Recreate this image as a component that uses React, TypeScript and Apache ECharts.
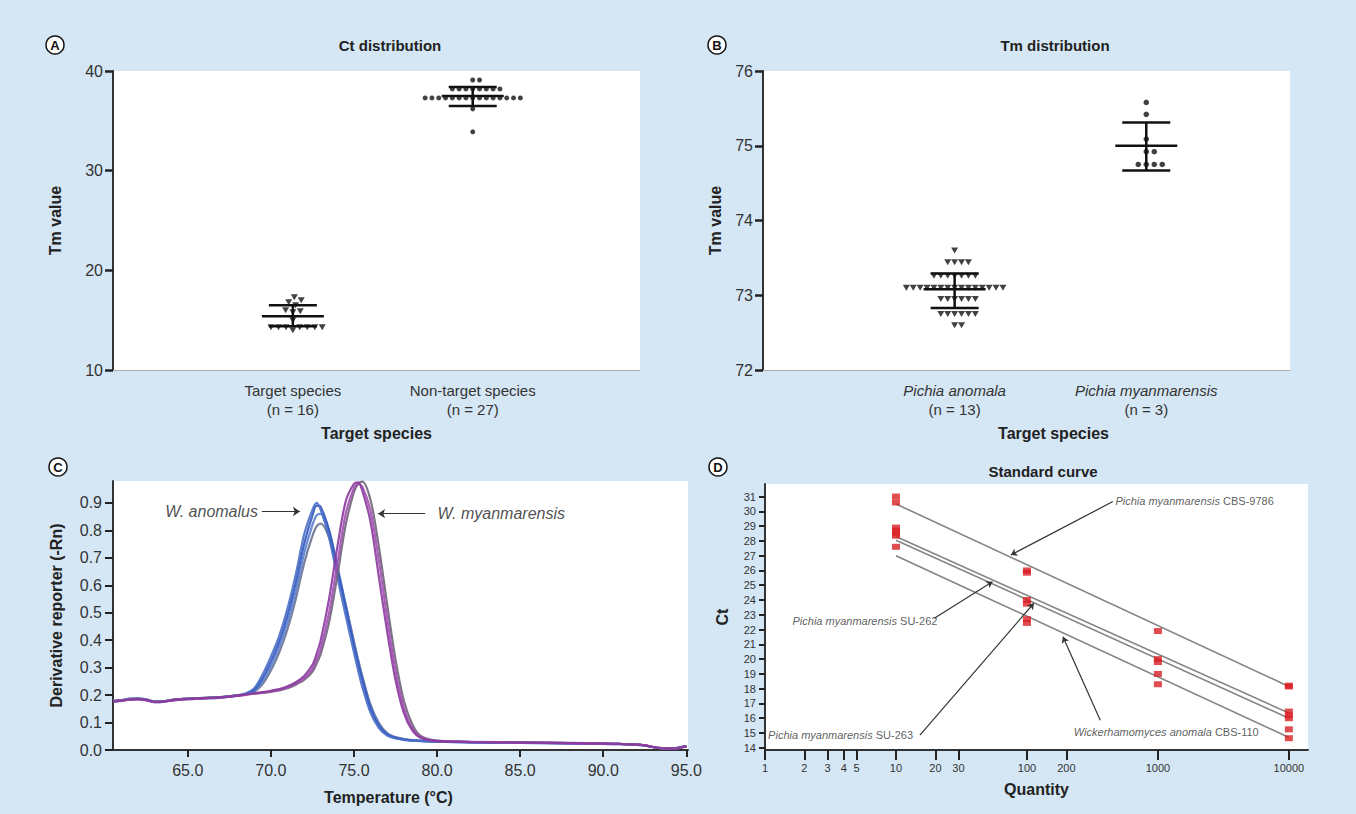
import React, { useEffect, useRef } from "react";
import * as echarts from "echarts";

const FONT = "'Liberation Sans', Arial, Helvetica, sans-serif";

// ---------- Panel A : Ct distribution ----------
const ctCategories = ["Target species", "Non-target species"];
const ctCounts = ["(n = 16)", "(n = 27)"];
const ctTarget = [17.3, 17.0, 16.8, 16.5, 16.0, 15.9, 15.8, 15.0, 14.3, 14.3, 14.3, 14.3, 14.3, 14.3, 14.3, 14.0];
const ctNonTarget = [
  39.1, 39.1,
  38.2, 38.2, 38.2, 38.2, 38.2, 38.2, 38.2, 38.2,
  37.3, 37.3, 37.3, 37.3, 37.3, 37.3, 37.3, 37.3, 37.3, 37.3, 37.3, 37.3, 37.3, 37.3, 37.3,
  36.2, 33.9,
];
const ctMean = [15.4, 37.5];
const ctSdLow = [14.4, 36.5];
const ctSdHigh = [16.5, 38.4];

// ---------- Panel B : Tm distribution ----------
const tmCategories = ["Pichia anomala", "Pichia myanmarensis"];
const tmCounts = ["(n = 13)", "(n = 3)"];
const tmAnomala = [
  73.6,
  73.44, 73.44, 73.44, 73.44,
  73.26, 73.26, 73.26, 73.26, 73.26, 73.26, 73.26,
  73.1, 73.1, 73.1, 73.1, 73.1, 73.1, 73.1, 73.1, 73.1, 73.1, 73.1, 73.1, 73.1, 73.1, 73.1,
  72.95, 72.95, 72.95, 72.95, 72.95, 72.95,
  72.75, 72.75, 72.75, 72.75, 72.75, 72.75,
  72.6, 72.6,
];
const tmMyanmarensis = [75.58, 75.42, 75.09, 74.92, 74.92, 74.75, 74.75, 74.75, 74.75];
const tmMean = [73.08, 75.0];
const tmSdLow = [72.83, 74.67];
const tmSdHigh = [73.29, 75.31];

// ---------- Panel C : melt curves ----------
const temps = [60.5, 61, 61.5, 62, 62.5, 63, 63.5, 64, 65, 66, 67, 68, 68.5, 69, 69.5, 70, 70.5, 71, 71.5, 72, 72.5, 72.75, 73, 73.5, 74, 74.5, 75, 75.25, 75.5, 76, 76.5, 77, 77.5, 78, 78.5, 79, 80, 82, 85, 88, 90, 91, 92, 92.5, 93, 93.5, 94, 94.5, 95];
const anomalus1 = [0.178, 0.18, 0.185, 0.186, 0.183, 0.175, 0.176, 0.181, 0.186, 0.189, 0.192, 0.2, 0.207, 0.225, 0.275, 0.34, 0.415, 0.515, 0.64, 0.785, 0.875, 0.9, 0.875, 0.775, 0.63, 0.49, 0.355, 0.29, 0.23, 0.135, 0.08, 0.053, 0.042, 0.037, 0.034, 0.032, 0.03, 0.028, 0.026, 0.024, 0.022, 0.021, 0.019, 0.016, 0.01, 0.006, 0.005, 0.007, 0.013];
const anomalus2 = [0.176, 0.179, 0.184, 0.185, 0.182, 0.174, 0.175, 0.18, 0.185, 0.188, 0.191, 0.199, 0.205, 0.22, 0.262, 0.322, 0.395, 0.49, 0.61, 0.75, 0.855, 0.89, 0.885, 0.8, 0.66, 0.52, 0.38, 0.315, 0.255, 0.15, 0.088, 0.057, 0.044, 0.038, 0.035, 0.033, 0.031, 0.029, 0.027, 0.025, 0.023, 0.022, 0.02, 0.017, 0.011, 0.007, 0.006, 0.008, 0.014];
const anomalus3 = [0.18, 0.182, 0.187, 0.188, 0.185, 0.177, 0.178, 0.183, 0.187, 0.19, 0.193, 0.198, 0.204, 0.215, 0.25, 0.305, 0.375, 0.465, 0.58, 0.715, 0.82, 0.855, 0.86, 0.8, 0.67, 0.53, 0.39, 0.325, 0.265, 0.16, 0.094, 0.06, 0.046, 0.039, 0.035, 0.033, 0.03, 0.028, 0.026, 0.024, 0.022, 0.021, 0.019, 0.016, 0.01, 0.006, 0.005, 0.007, 0.013];
const anomalus4 = [0.177, 0.181, 0.186, 0.187, 0.184, 0.176, 0.177, 0.182, 0.187, 0.19, 0.193, 0.199, 0.203, 0.212, 0.24, 0.29, 0.355, 0.44, 0.55, 0.68, 0.78, 0.815, 0.825, 0.775, 0.66, 0.53, 0.395, 0.33, 0.27, 0.165, 0.098, 0.062, 0.047, 0.04, 0.036, 0.034, 0.031, 0.029, 0.027, 0.025, 0.023, 0.022, 0.02, 0.017, 0.011, 0.007, 0.006, 0.008, 0.014];
const myanmarensis1 = [0.177, 0.18, 0.184, 0.185, 0.182, 0.175, 0.176, 0.181, 0.186, 0.189, 0.192, 0.198, 0.203, 0.207, 0.211, 0.216, 0.222, 0.232, 0.247, 0.27, 0.31, 0.35, 0.4, 0.55, 0.74, 0.905, 0.97, 0.975, 0.945, 0.83, 0.63, 0.43, 0.255, 0.135, 0.072, 0.045, 0.032, 0.029, 0.027, 0.025, 0.023, 0.022, 0.02, 0.017, 0.011, 0.006, 0.005, 0.007, 0.014];
const myanmarensis2 = [0.176, 0.179, 0.183, 0.184, 0.181, 0.174, 0.175, 0.18, 0.185, 0.188, 0.191, 0.197, 0.201, 0.205, 0.209, 0.213, 0.219, 0.228, 0.242, 0.262, 0.295, 0.33, 0.37, 0.5, 0.68, 0.86, 0.955, 0.97, 0.96, 0.87, 0.69, 0.48, 0.29, 0.155, 0.08, 0.048, 0.033, 0.03, 0.027, 0.025, 0.023, 0.022, 0.02, 0.017, 0.011, 0.007, 0.006, 0.008, 0.013];
const myanmarensis3 = [0.178, 0.181, 0.185, 0.186, 0.183, 0.176, 0.177, 0.182, 0.187, 0.19, 0.193, 0.198, 0.202, 0.205, 0.208, 0.212, 0.217, 0.225, 0.238, 0.255, 0.285, 0.315, 0.35, 0.465, 0.635, 0.82, 0.94, 0.97, 0.978, 0.91, 0.74, 0.53, 0.33, 0.18, 0.095, 0.052, 0.034, 0.03, 0.028, 0.026, 0.024, 0.022, 0.02, 0.017, 0.011, 0.007, 0.006, 0.008, 0.014];
const tempTicks = [65, 70, 75, 80, 85, 90, 95];
const rnTicks = [0, 0.1, 0.2, 0.3, 0.4, 0.5, 0.6, 0.7, 0.8, 0.9];

// ---------- Panel D : standard curve ----------
const stdQty = [10, 10, 10, 10, 10, 10, 10, 100, 100, 100, 100, 100, 100, 1000, 1000, 1000, 1000, 1000, 10000, 10000, 10000, 10000, 10000, 10000, 10000];
const stdCt = [31.0, 30.6, 28.9, 28.7, 28.5, 28.35, 27.6, 26.0, 25.85, 24.0, 23.75, 22.7, 22.45, 21.9, 20.0, 19.8, 19.0, 18.3, 18.2, 18.15, 16.45, 16.2, 16.0, 15.25, 14.65];
const fitNames = ["Pichia myanmarensis CBS-9786", "Pichia myanmarensis SU-262", "Wickerhamomyces anomala CBS-110", "Pichia myanmarensis SU-263"];
const fitQty = [10, 10000];
const fitCtStart = [30.5, 28.3, 28.05, 27.0];
const fitCtEnd = [18.15, 16.35, 16.0, 14.7];
const qtyTicks = [1, 2, 3, 4, 5, 10, 20, 30, 100, 200, 1000, 10000];
const stdCtTicks = [14, 15, 16, 17, 18, 19, 20, 21, 22, 23, 24, 25, 26, 27, 28, 29, 30, 31];

// ---------- layout ----------
const GA = { left: 113, top: 71, width: 527, height: 299 };
const GB = { left: 763, top: 71, width: 527, height: 299 };
const GC = { left: 113, top: 481, width: 575, height: 269 };
const GD = { left: 765, top: 484, width: 543, height: 266 };
const XA = [0, 2.93];
const XB = [0, 2.75];
const YA = [10, 40];
const YB = [72, 76];

// beeswarm offsets computed from values (collision avoidance in pixel space)
function swarm(values: number[], pxX: number, pxY: number, d: number): number[] {
  const order = values.map((_, i) => i).sort((a, b) => values[a] - values[b]);
  const placed: { x: number; y: number }[] = [];
  const out = new Array(values.length).fill(0);
  for (const i of order) {
    const y = values[i] * pxY;
    const near = placed.filter((p) => Math.abs(p.y - y) < d);
    const cands = [0];
    near.forEach((p) => {
      const dx = Math.sqrt(d * d - (p.y - y) * (p.y - y));
      cands.push(p.x + dx, p.x - dx);
    });
    cands.sort((a, b) => Math.abs(a) - Math.abs(b) || b - a);
    let x = 0;
    for (const c of cands) {
      if (near.every((p) => (p.x - c) * (p.x - c) + (p.y - y) * (p.y - y) >= d * d - 1e-6)) {
        x = c;
        break;
      }
    }
    placed.push({ x, y });
    out[i] = x / pxX;
  }
  return out;
}

function swarmData(values: number[], center: number, grid: any, xr: number[], yr: number[], d: number) {
  const pxX = grid.width / (xr[1] - xr[0]);
  const pxY = grid.height / (yr[1] - yr[0]);
  const off = swarm(values, pxX, pxY, d);
  return values.map((v, i) => [center + off[i], v]);
}

const errRender = (params: any, api: any) => {
  const x = api.value(0);
  const c = api.coord([x, api.value(1)]);
  const lo = api.coord([x, api.value(2)]);
  const hi = api.coord([x, api.value(3)]);
  const mw = 31;
  const sw = 24;
  const style = { stroke: "#111", lineWidth: 2.5 };
  return {
    type: "group",
    children: [
      { type: "line", shape: { x1: c[0], y1: hi[1], x2: c[0], y2: lo[1] }, style },
      { type: "line", shape: { x1: c[0] - mw, y1: c[1], x2: c[0] + mw, y2: c[1] }, style },
      { type: "line", shape: { x1: c[0] - sw, y1: hi[1], x2: c[0] + sw, y2: hi[1] }, style },
      { type: "line", shape: { x1: c[0] - sw, y1: lo[1], x2: c[0] + sw, y2: lo[1] }, style },
    ],
  };
};

const nameStyle = { fontWeight: "bold", fontSize: 16, color: "#222", fontFamily: FONT };
const darkLine = { show: true, lineStyle: { color: "#333", width: 2 } };

function circleLabel(cx: number, cy: number, letter: string) {
  return [
    { type: "circle", shape: { cx, cy, r: 9 }, style: { fill: "#fff", stroke: "#111", lineWidth: 1.5 } },
    {
      type: "text",
      x: cx,
      y: cy + 0.5,
      style: { text: letter, font: `bold 13px ${FONT}`, fill: "#111", align: "center", verticalAlign: "middle", textAlign: "center", textVerticalAlign: "middle" },
    },
  ];
}

function titleText(x: number, y: number, text: string) {
  return {
    type: "text",
    x,
    y,
    style: { text, font: `bold 15px ${FONT}`, fill: "#222", align: "center", verticalAlign: "middle", textAlign: "center", textVerticalAlign: "middle" },
  };
}

const lg = (q: number) => Math.log10(q);

function buildOption() {
  const curveSeries: any[] = [];
  const anomalusSet = [anomalus4, anomalus3, anomalus2, anomalus1];
  const anomalusColors = ["#6a7390", "#5a7fd2", "#3358bb", "#4a6fc9"];
  const myanSet = [myanmarensis3, myanmarensis2, myanmarensis1];
  const myanColors = ["#6f6478", "#a24fb2", "#8b3a9e"];
  anomalusSet.forEach((arr, k) =>
    curveSeries.push({
      type: "line",
      name: "W. anomalus " + (k + 1),
      xAxisIndex: 2,
      yAxisIndex: 2,
      data: temps.map((t, i) => [t, arr[i]]),
      showSymbol: false,
      smooth: 0.3,
      lineStyle: { color: anomalusColors[k], width: 2.2, opacity: 0.9 },
      silent: true,
    })
  );
  myanSet.forEach((arr, k) =>
    curveSeries.push({
      type: "line",
      name: "W. myanmarensis " + (k + 1),
      xAxisIndex: 2,
      yAxisIndex: 2,
      data: temps.map((t, i) => [t, arr[i]]),
      showSymbol: false,
      smooth: 0.3,
      lineStyle: { color: myanColors[k], width: 2.2, opacity: 0.9 },
      silent: true,
    })
  );

  const fitSeries = fitNames.map((n, k) => ({
    type: "line",
    name: n,
    xAxisIndex: 3,
    yAxisIndex: 3,
    data: [
      [lg(fitQty[0]), fitCtStart[k]],
      [lg(fitQty[1]), fitCtEnd[k]],
    ],
    showSymbol: false,
    lineStyle: { color: "#858585", width: 1.6 },
    silent: true,
  }));

  const rich = { i: { fontStyle: "italic", fontSize: 11, color: "#333", fontFamily: FONT } };

  return {
    animation: false,
    backgroundColor: "#d5e7f5",
    textStyle: { fontFamily: FONT },
    grid: [GA, GB, GC, GD].map((g) => ({ ...g, show: true, backgroundColor: "#fff", borderWidth: 0, containLabel: false, outerBoundsMode: "none" })),
    xAxis: [
      {
        type: "value",
        gridIndex: 0,
        min: XA[0],
        max: XA[1],
        name: "Target species",
        nameLocation: "middle",
        nameGap: 55,
        nameTextStyle: nameStyle,
        axisLine: { show: true, lineStyle: { color: "#aaa", width: 1 } },
        axisTick: { show: false },
        splitLine: { show: false },
        axisLabel: {
          customValues: [1, 2],
          formatter: (v: number) => `${ctCategories[Math.round(v) - 1]}\n${ctCounts[Math.round(v) - 1]}`,
          fontSize: 15,
          lineHeight: 19,
          color: "#333",
          margin: 11,
          fontFamily: FONT,
        },
      },
      {
        type: "value",
        gridIndex: 1,
        min: XB[0],
        max: XB[1],
        name: "Target species",
        nameLocation: "middle",
        nameGap: 55,
        nameTextStyle: { ...nameStyle, padding: [0, 0, 0, 54] },
        axisLine: { show: true, lineStyle: { color: "#aaa", width: 1 } },
        axisTick: { show: false },
        splitLine: { show: false },
        axisLabel: {
          customValues: [1, 2],
          formatter: (v: number) => `{i|${tmCategories[Math.round(v) - 1]}}\n${tmCounts[Math.round(v) - 1]}`,
          rich: { i: { fontStyle: "italic", fontSize: 15, lineHeight: 19, color: "#333", fontFamily: FONT } },
          fontSize: 15,
          lineHeight: 19,
          color: "#333",
          margin: 11,
          fontFamily: FONT,
        },
      },
      {
        type: "value",
        gridIndex: 2,
        min: 60.5,
        max: 95.1,
        name: "Temperature (°C)",
        nameLocation: "middle",
        nameGap: 39,
        nameTextStyle: { ...nameStyle, padding: [0, 24, 0, 0] },
        axisLine: darkLine,
        axisTick: { show: true, customValues: tempTicks, length: 7, lineStyle: { color: "#222", width: 2 } },
        splitLine: { show: false },
        axisLabel: { customValues: tempTicks, formatter: (v: number) => v.toFixed(1), fontSize: 16, color: "#333", margin: 12, fontFamily: FONT },
      },
      {
        type: "value",
        gridIndex: 3,
        min: 0,
        max: lg(14000),
        name: "Quantity",
        nameLocation: "middle",
        nameGap: 31,
        nameTextStyle: nameStyle,
        axisLine: darkLine,
        axisTick: { show: true, customValues: qtyTicks.map(lg), length: 10, lineStyle: { color: "#222", width: 2 } },
        splitLine: { show: false },
        axisLabel: {
          customValues: qtyTicks.map(lg),
          formatter: (v: number) => String(Math.round(Math.pow(10, v))),
          fontSize: 11,
          color: "#333",
          margin: 12,
          fontFamily: FONT,
        },
      },
    ],
    yAxis: [
      {
        type: "value",
        gridIndex: 0,
        min: YA[0],
        max: YA[1],
        interval: 10,
        name: "Tm value",
        nameLocation: "middle",
        nameGap: 50,
        nameTextStyle: nameStyle,
        axisLine: darkLine,
        axisTick: { show: true, length: 8, lineStyle: { color: "#222", width: 2.5 } },
        axisLabel: { fontSize: 16, color: "#333", margin: 10, fontFamily: FONT },
        splitLine: { show: false },
      },
      {
        type: "value",
        gridIndex: 1,
        min: YB[0],
        max: YB[1],
        interval: 1,
        name: "Tm value",
        nameLocation: "middle",
        nameGap: 40,
        nameTextStyle: nameStyle,
        axisLine: darkLine,
        axisTick: { show: true, length: 8, lineStyle: { color: "#222", width: 2.5 } },
        axisLabel: { fontSize: 16, color: "#333", margin: 10, fontFamily: FONT },
        splitLine: { show: false },
      },
      {
        type: "value",
        gridIndex: 2,
        min: 0,
        max: 0.98,
        name: "Derivative reporter (-Rn)",
        nameLocation: "middle",
        nameGap: 49,
        nameTextStyle: nameStyle,
        axisLine: darkLine,
        axisTick: { show: true, customValues: rnTicks, length: 8, lineStyle: { color: "#222", width: 2 } },
        axisLabel: { customValues: rnTicks, formatter: (v: number) => v.toFixed(1), fontSize: 16, color: "#333", margin: 11, fontFamily: FONT },
        splitLine: { show: false },
      },
      {
        type: "value",
        gridIndex: 3,
        min: 13.85,
        max: 31.85,
        name: "Ct",
        nameLocation: "middle",
        nameGap: 35,
        nameTextStyle: nameStyle,
        axisLine: darkLine,
        axisTick: { show: true, customValues: stdCtTicks, length: 6, lineStyle: { color: "#222", width: 2 } },
        axisLabel: { customValues: stdCtTicks, fontSize: 11, color: "#333", margin: 9, fontFamily: FONT },
        splitLine: { show: false },
      },
    ],
    series: [
      {
        type: "scatter",
        name: "Target species",
        xAxisIndex: 0,
        yAxisIndex: 0,
        data: swarmData(ctTarget, 1, GA, XA, YA, 7.5),
        symbol: "triangle",
        symbolRotate: 180,
        symbolSize: [7, 6],
        itemStyle: { color: "#111" },
        silent: true,
      },
      {
        type: "scatter",
        name: "Non-target species",
        xAxisIndex: 0,
        yAxisIndex: 0,
        data: swarmData(ctNonTarget, 2, GA, XA, YA, 6.8),
        symbol: "circle",
        symbolSize: 5,
        itemStyle: { color: "#111" },
        silent: true,
      },
      {
        type: "custom",
        name: "Ct mean SD",
        xAxisIndex: 0,
        yAxisIndex: 0,
        renderItem: errRender,
        encode: { x: 0, y: [1, 2, 3] },
        data: ctMean.map((m, i) => [i + 1, m, ctSdLow[i], ctSdHigh[i]]),
        silent: true,
        z: 5,
      },
      {
        type: "scatter",
        name: "Pichia anomala",
        xAxisIndex: 1,
        yAxisIndex: 1,
        data: swarmData(tmAnomala, 1, GB, XB, YB, 6.9),
        symbol: "triangle",
        symbolRotate: 180,
        symbolSize: [7, 6],
        itemStyle: { color: "#111" },
        silent: true,
      },
      {
        type: "scatter",
        name: "Pichia myanmarensis",
        xAxisIndex: 1,
        yAxisIndex: 1,
        data: swarmData(tmMyanmarensis, 2, GB, XB, YB, 8),
        symbol: "circle",
        symbolSize: 5.5,
        itemStyle: { color: "#111" },
        silent: true,
      },
      {
        type: "custom",
        name: "Tm mean SD",
        xAxisIndex: 1,
        yAxisIndex: 1,
        renderItem: errRender,
        encode: { x: 0, y: [1, 2, 3] },
        data: tmMean.map((m, i) => [i + 1, m, tmSdLow[i], tmSdHigh[i]]),
        silent: true,
        z: 5,
      },
      ...curveSeries,
      {
        type: "scatter",
        name: "C labels",
        xAxisIndex: 2,
        yAxisIndex: 2,
        symbolSize: 1,
        itemStyle: { color: "rgba(0,0,0,0)" },
        silent: true,
        label: { show: true, position: "right", distance: 0, fontStyle: "italic", fontSize: 16, color: "#222", fontFamily: FONT },
        data: [
          { value: [63.61, 0.869], label: { formatter: "W. anomalus" } },
          { value: [80.0, 0.861], label: { formatter: "W. myanmarensis" } },
        ],
        markLine: {
          silent: true,
          symbol: ["none", "arrow"],
          symbolSize: 7,
          label: { show: false },
          lineStyle: { color: "#333", width: 1.2, type: "solid" },
          data: [
            [{ coord: [69.46, 0.869] }, { coord: [71.75, 0.869] }],
            [{ coord: [79.28, 0.861] }, { coord: [76.45, 0.861] }],
          ],
        },
      },
      ...fitSeries,
      {
        type: "scatter",
        name: "Standards",
        xAxisIndex: 3,
        yAxisIndex: 3,
        data: stdQty.map((q, i) => [lg(q), stdCt[i]]),
        symbol: "rect",
        symbolSize: [8, 6],
        itemStyle: { color: "#d91f26" },
        silent: true,
        z: 4,
      },
      {
        type: "scatter",
        name: "D labels",
        xAxisIndex: 3,
        yAxisIndex: 3,
        symbolSize: 1,
        itemStyle: { color: "rgba(0,0,0,0)" },
        silent: true,
        label: { show: true, position: "right", distance: 0, fontSize: 11, color: "#333", fontFamily: FONT, rich },
        data: [
          { value: [2.672, 30.71], label: { formatter: "{i|Pichia myanmarensis} CBS-9786" } },
          { value: [0.206, 22.6], label: { formatter: "{i|Pichia myanmarensis} SU-262" } },
          { value: [0.02, 14.86], label: { formatter: "{i|Pichia myanmarensis} SU-263" } },
          { value: [2.354, 15.08], label: { formatter: "{i|Wickerhamomyces anomala} CBS-110" } },
        ],
        markLine: {
          silent: true,
          symbol: ["none", "arrow"],
          symbolSize: 6,
          label: { show: false },
          lineStyle: { color: "#333", width: 1.2, type: "solid" },
          data: [
            [{ coord: [2.656, 30.66] }, { coord: [1.878, 27.05] }],
            [{ coord: [1.293, 22.76] }, { coord: [1.737, 25.24] }],
            [{ coord: [1.183, 14.855] }, { coord: [2.053, 23.78] }],
            [{ coord: [2.56, 15.87] }, { coord: [2.275, 21.51] }],
          ],
        },
      },
    ],
    graphic: [
      ...circleLabel(55, 45, "A"),
      ...circleLabel(717, 45, "B"),
      ...circleLabel(58, 467, "C"),
      ...circleLabel(718, 467, "D"),
      titleText(390, 45, "Ct distribution"),
      titleText(1055, 45, "Tm distribution"),
      titleText(1043, 471, "Standard curve"),
    ],
  };
}

export default function App() {
  const ref = useRef<HTMLDivElement>(null);
  useEffect(() => {
    document.body.style.margin = "0";
    if (!ref.current) return;
    const chart = echarts.init(ref.current, null, { renderer: "svg" });
    chart.setOption(buildOption() as any);
    return () => chart.dispose();
  }, []);
  return <div ref={ref} style={{ width: 1356, height: 814 }} />;
}
